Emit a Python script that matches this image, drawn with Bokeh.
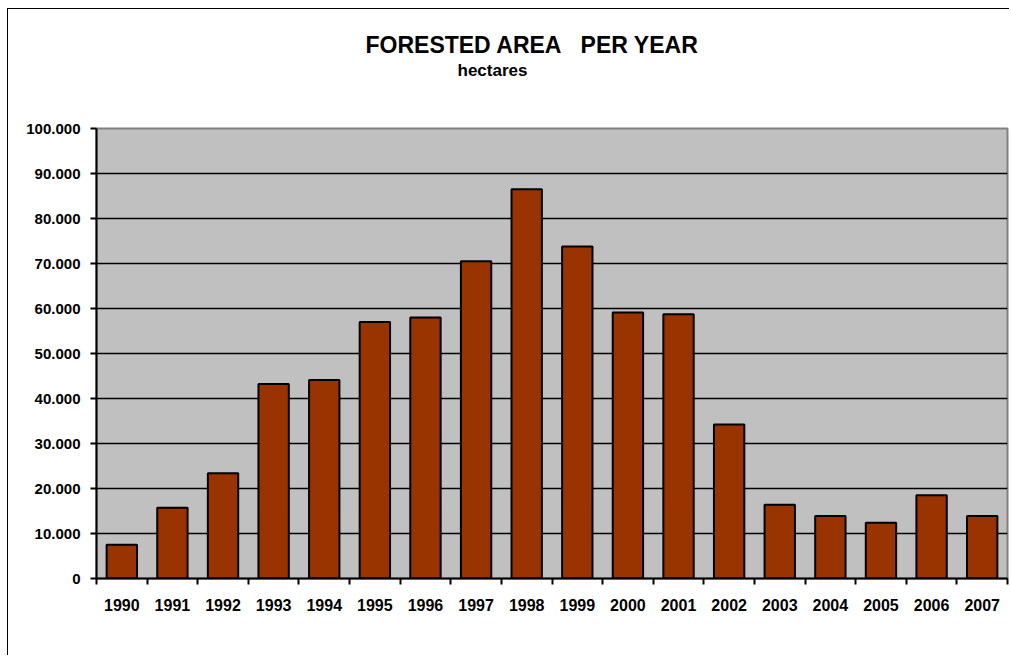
from bokeh.plotting import figure
from bokeh.models import Range1d, FixedTicker, Title, ColumnDataSource
from bokeh.embed import file_html
from bokeh.resources import INLINE

years = ["1990", "1991", "1992", "1993", "1994", "1995", "1996", "1997", "1998",
         "1999", "2000", "2001", "2002", "2003", "2004", "2005", "2006", "2007"]
hectares = [7500, 15700, 23400, 43200, 44100, 57000, 58000, 70500, 86500,
            73800, 59100, 58700, 34200, 16400, 13900, 12400, 18500, 13900]
y_ticks = [0, 10000, 20000, 30000, 40000, 50000, 60000, 70000, 80000, 90000, 100000]
y_tick_labels = ["0", "10.000", "20.000", "30.000", "40.000", "50.000",
                 "60.000", "70.000", "80.000", "90.000", "100.000"]
title_text = "FORESTED AREA\u00a0\u00a0\u00a0PER YEAR"
subtitle_text = "hectares"

FONT = "Liberation Sans"
n = len(years)
centers = [i + 0.5 for i in range(n)]
bounds = list(range(n + 1))

src = ColumnDataSource(dict(x=centers, top=hectares, year=years))

p = figure(width=1002, height=647, x_range=Range1d(0, n), y_range=Range1d(0, 100000),
           output_backend="svg", toolbar_location=None, title=None,
           min_border_left=88, min_border_right=3, min_border_bottom=78, min_border_top=119,
           background_fill_color="#C0C0C0", border_fill_color="white",
           styles={"border-left": "1px solid black", "border-top": "1px solid black",
                   "margin-left": "7px", "margin-top": "8px"})

p.outline_line_color = "#808080"
p.outline_line_width = 2

p.vbar(x="x", top="top", width=0.6, bottom=0, source=src,
       fill_color="#993300", line_color="black", line_width=2)

# grid
p.xgrid.visible = False
p.ygrid.ticker = FixedTicker(ticks=y_ticks)
p.ygrid.grid_line_color = "black"
p.ygrid.grid_line_width = 1.6

# y axis
ya = p.yaxis[0]
ya.ticker = FixedTicker(ticks=y_ticks)
ya.major_label_overrides = {t: l for t, l in zip(y_ticks, y_tick_labels)}
ya.axis_line_color = "black"
ya.axis_line_width = 2
ya.major_tick_line_color = "black"
ya.major_tick_line_width = 2
ya.major_tick_out = 6
ya.major_tick_in = 0
ya.minor_tick_line_color = None
ya.major_label_standoff = 10
ya.major_label_text_font = FONT
ya.major_label_text_font_style = "bold"
ya.major_label_text_font_size = "15px"
ya.major_label_text_color = "black"

# x axis
xa = p.xaxis[0]
xa.ticker = FixedTicker(ticks=centers, minor_ticks=bounds)
xa.major_label_overrides = {c: y for c, y in zip(centers, years)}
xa.axis_line_color = "black"
xa.axis_line_width = 2
xa.major_tick_line_color = None
xa.major_tick_out = 0
xa.major_tick_in = 0
xa.minor_tick_line_color = "black"
xa.minor_tick_line_width = 2
xa.minor_tick_out = 6
xa.minor_tick_in = 0
xa.major_label_standoff = 14
xa.major_label_text_font = FONT
xa.major_label_text_font_style = "bold"
xa.major_label_text_font_size = "16px"
xa.major_label_text_color = "black"

sub = Title(text=subtitle_text, align="left", offset=361, standoff=98,
            text_font=FONT, text_font_style="bold", text_font_size="17px",
            text_color="black")
main = Title(text=title_text, align="left", offset=269, standoff=-96,
             text_font=FONT, text_font_style="bold", text_font_size="23px",
             text_color="black")
p.add_layout(sub, "above")
p.add_layout(main, "above")

open("out.html", "w").write(file_html(p, INLINE))
